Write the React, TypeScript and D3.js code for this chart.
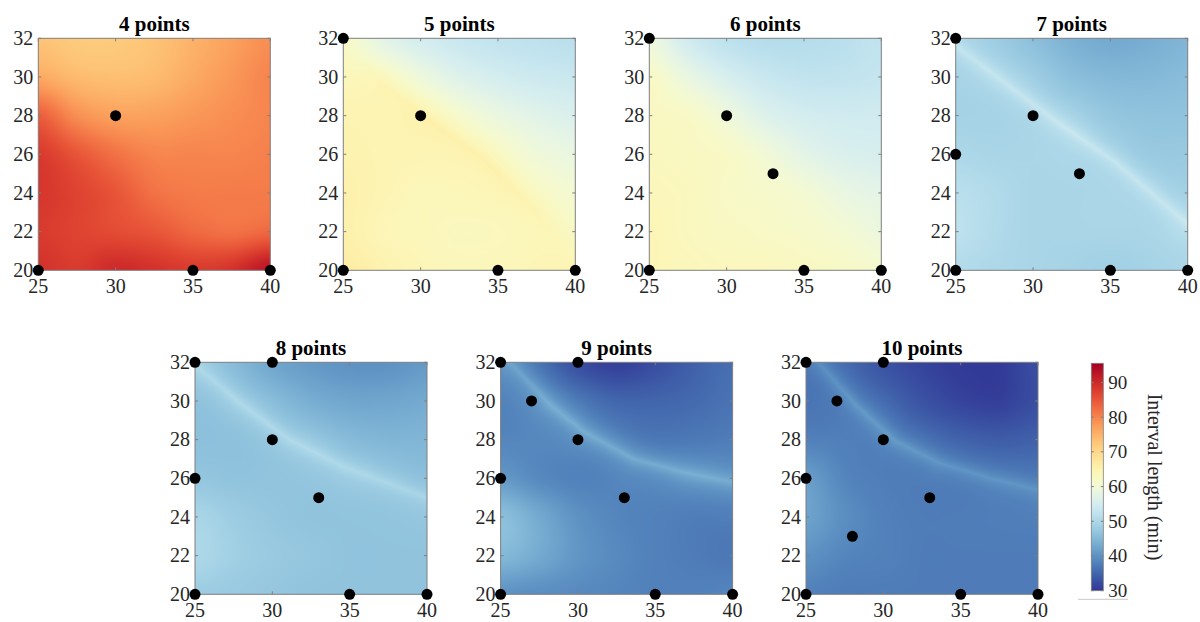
import React, { useMemo } from "react";
import * as d3 from "d3";

// Grid sample positions (data coordinates)
const gridX = [25, 27.5, 30, 32.5, 35, 37.5, 40];
const gridY = [32, 30, 28, 26, 24, 22, 20]; // rows, top to bottom

const xTicks = [25, 30, 35, 40];
const yTicks = [20, 22, 24, 26, 28, 30, 32];
const cbTicks = [30, 40, 50, 60, 70, 80, 90];
const cbDomain = [30, 95.5];

// Interval length (min): smooth background fields
const field4 = [
  [73, 72, 72, 73, 75, 77, 79],
  [76, 74, 73.5, 74, 76, 78, 80],
  [84, 79, 77, 77, 78, 79, 80],
  [88, 85, 82, 80, 80, 80, 80.5],
  [88.5, 87, 85, 82, 81, 81, 81],
  [88, 87, 86, 85, 83, 82, 83],
  [89, 88, 90, 89, 88, 89, 93],
];
const field5 = [
  [62, 57.5, 55, 53.5, 52.5, 52, 51.5],
  [63.5, 62, 59, 56.5, 55, 54, 53.5],
  [64.5, 64, 63, 60.5, 58.5, 57, 56],
  [65, 64.5, 64, 63, 61.5, 59.5, 58.5],
  [65.5, 64.5, 63.5, 63.5, 63, 61.5, 60.5],
  [65.5, 64, 63.5, 63, 63, 63, 62],
  [66.5, 65, 64, 63.5, 63.5, 64, 64.5],
];
const field6 = [
  [59, 54.5, 52, 51, 51, 51.5, 52.5],
  [62, 58.5, 55.5, 53.5, 52.5, 52.5, 53],
  [62.5, 62, 59.5, 56.5, 55, 54.5, 54.5],
  [63, 62.5, 62, 60, 57.5, 56, 55.5],
  [63.5, 63, 62, 61.5, 60.5, 58.5, 57.5],
  [64, 63, 62.5, 62, 61.5, 60.5, 59],
  [64, 63.5, 63, 63, 62.5, 62, 61],
];
const field7 = [
  [49, 48, 46, 44, 43, 43.5, 44.5],
  [49, 49, 48, 46, 45, 45, 45.5],
  [49, 49, 49, 48.5, 47, 46.5, 46.5],
  [50, 49.5, 49.5, 49.5, 48.5, 47.5, 47.5],
  [51.5, 50.5, 49.5, 49.5, 49.5, 49, 48.5],
  [52, 50.5, 49.5, 49.5, 49.5, 49.5, 50],
  [50.5, 50, 49.5, 49, 48.5, 49, 49.5],
];
const field8 = [
  [47, 45, 42.5, 41, 40, 40, 41],
  [46, 46, 45, 43.5, 42.5, 42.5, 43],
  [46, 46, 46, 46, 45, 44.5, 44.5],
  [47, 46.5, 46.5, 46.5, 46.5, 46, 45.5],
  [49.5, 48, 47, 46.5, 46.5, 46.5, 46.5],
  [50, 48.5, 47.5, 47, 46.5, 46.5, 46.5],
  [48, 47.5, 47, 46.5, 46.5, 46.5, 46.5],
];
const field9 = [
  [39, 36, 32.5, 31, 32.5, 34.5, 36],
  [38, 38, 36.5, 35, 35, 35.5, 36.5],
  [38.5, 38.5, 38, 37, 36.5, 37, 37.5],
  [41, 39, 38, 38, 38, 38.5, 38.5],
  [46, 43, 40, 38.5, 38, 37.5, 37.5],
  [45, 43, 40.5, 39, 38, 37.5, 37],
  [40, 39.5, 39, 38.5, 38, 38, 38.5],
];
const field10 = [
  [36, 35, 33, 31.5, 30.5, 30.5, 32.5],
  [36.5, 36, 35, 33, 31.5, 31, 32.5],
  [38, 37.5, 36.5, 35.5, 34.5, 34, 34.5],
  [41.5, 38.5, 37.5, 37, 36.5, 36.5, 36.5],
  [42, 39.5, 38, 37.5, 37.5, 37.5, 37.5],
  [40, 38.5, 38, 37.5, 37.5, 37.5, 37.5],
  [38, 37.5, 37.5, 37.5, 37.5, 37.5, 37.5],
];

// Crease lines seen in the maps: [x, y, extra minutes at the crease]
const ridge4: number[][] = [];
const ridge5 = [[26, 31, 0], [27.5, 29.6, 2], [31.5, 27.2, 3], [34, 25.8, 3], [37, 23.4, 2.5], [38.8, 21.7, 1], [39.8, 20.6, 0]];
const ridge6: number[][] = [];
const ridge7 = [[25, 31.6, 4], [31.5, 27.7, 4.5], [35.3, 25.6, 4.5], [40, 22.4, 4]];
const ridge8 = [[25.1, 31.8, 3.5], [27.9, 29.9, 4.5], [31.1, 28, 4.5], [34.6, 26.6, 4], [40, 25, 3.5]];
const ridge9 = [[25.6, 32, 4], [28.2, 29.8, 6], [30.4, 28.4, 6], [33.6, 27, 6], [36.9, 26.3, 5.5], [40, 25.8, 5]];
const ridge10 = [[25.8, 32, 4], [28.2, 29.8, 5], [30.8, 27.9, 5], [33.6, 26.8, 4.5], [36.9, 26, 4], [40, 25.4, 3.5]];

// Sensor points per panel
const pts4 = [[25, 20], [30, 28], [35, 20], [40, 20]];
const pts5 = [[25, 32], [30, 28], [25, 20], [35, 20], [40, 20]];
const pts6 = [[25, 32], [30, 28], [33, 25], [25, 20], [35, 20], [40, 20]];
const pts7 = [[25, 32], [30, 28], [25, 26], [33, 25], [25, 20], [35, 20], [40, 20]];
const pts8 = [[25, 32], [30, 32], [30, 28], [25, 26], [33, 25], [25, 20], [35, 20], [40, 20]];
const pts9 = [[25, 32], [30, 32], [27, 30], [30, 28], [25, 26], [33, 25], [25, 20], [35, 20], [40, 20]];
const pts10 = [[25, 32], [30, 32], [27, 30], [30, 28], [25, 26], [33, 25], [28, 23], [25, 20], [35, 20], [40, 20]];

const titles = ["4 points", "5 points", "6 points", "7 points", "8 points", "9 points", "10 points"];
const fields = [field4, field5, field6, field7, field8, field9, field10];
const ridges = [ridge4, ridge5, ridge6, ridge7, ridge8, ridge9, ridge10];
const ridgeWidths = [0, 16, 0, 9, 11, 11, 11]; // px falloff of each crease
const pointSets = [pts4, pts5, pts6, pts7, pts8, pts9, pts10];

const SIZE = 232;
const layout = [
  { left: 38.3, top: 38.3 },
  { left: 343.3, top: 38.3 },
  { left: 649.3, top: 38.3 },
  { left: 955.7, top: 38.3 },
  { left: 195, top: 362.3 },
  { left: 500.6, top: 362.3 },
  { left: 806, top: 362.3 },
];

const color = d3
  .scaleSequential((t: number) => d3.interpolateRdYlBu(1 - t))
  .domain(cbDomain as [number, number]);

const FONT = "'Liberation Serif', 'Times New Roman', serif";
const TXT = "#262626";
const AXC = "#7f7f7f";

function cr(p0: number, p1: number, p2: number, p3: number, t: number) {
  return p1 + 0.5 * t * (p2 - p0 + t * (2 * p0 - 5 * p1 + 4 * p2 - p3 + t * (3 * (p1 - p2) + p3 - p0)));
}

function sample(grid: number[][], fx: number, fy: number) {
  const nr = grid.length, nc = grid[0].length;
  const g = (r: number, c: number) =>
    grid[Math.max(0, Math.min(nr - 1, r))][Math.max(0, Math.min(nc - 1, c))];
  const c0 = Math.max(0, Math.min(nc - 2, Math.floor(fx)));
  const r0 = Math.max(0, Math.min(nr - 2, Math.floor(fy)));
  const tx = fx - c0, ty = fy - r0;
  const rowVals: number[] = [];
  for (let k = -1; k <= 2; k++) {
    const r = r0 + k;
    rowVals.push(cr(g(r, c0 - 1), g(r, c0), g(r, c0 + 1), g(r, c0 + 2), tx));
  }
  return cr(rowVals[0], rowVals[1], rowVals[2], rowVals[3], ty);
}

function makeImage(grid: number[][], ridge: number[][], rw: number) {
  const W = SIZE, H = SIZE;
  const canvas = document.createElement("canvas");
  canvas.width = W;
  canvas.height = H;
  const ctx = canvas.getContext("2d")!;
  const img = ctx.createImageData(W, H);
  const xs = d3.scaleLinear().domain([25, 40]).range([0, W]);
  const ys = d3.scaleLinear().domain([20, 32]).range([H, 0]);
  const fxS = d3.scaleLinear().domain([gridX[0], gridX[gridX.length - 1]]).range([0, gridX.length - 1]);
  const fyS = d3.scaleLinear().domain([gridY[0], gridY[gridY.length - 1]]).range([0, gridY.length - 1]);
  const rp = ridge.map(([x, y, a]) => [xs(x), ys(y), a]);
  for (let py = 0; py < H; py++) {
    const cy = py + 0.5;
    const fy = fyS(ys.invert(cy));
    for (let px = 0; px < W; px++) {
      const cx = px + 0.5;
      const fx = fxS(xs.invert(cx));
      let v = sample(grid, fx, fy);
      if (rp.length > 1) {
        let best = Infinity, amp = 0;
        for (let s = 0; s < rp.length - 1; s++) {
          const [x1, y1, a1] = rp[s];
          const [x2, y2, a2] = rp[s + 1];
          const dx = x2 - x1, dy = y2 - y1;
          const L2 = dx * dx + dy * dy;
          let t = ((cx - x1) * dx + (cy - y1) * dy) / L2;
          t = Math.max(0, Math.min(1, t));
          const qx = x1 + t * dx - cx, qy = y1 + t * dy - cy;
          const d = Math.sqrt(qx * qx + qy * qy);
          if (d < best) {
            best = d;
            amp = a1 + t * (a2 - a1);
          }
        }
        v += amp * Math.exp(-best / rw);
      }
      const c = d3.rgb(color(Math.max(cbDomain[0], Math.min(cbDomain[1], v))));
      const i = (py * W + px) * 4;
      img.data[i] = c.r;
      img.data[i + 1] = c.g;
      img.data[i + 2] = c.b;
      img.data[i + 3] = 255;
    }
  }
  ctx.putImageData(img, 0, 0);
  return canvas.toDataURL();
}

function colorbarImage() {
  const H = 256;
  const canvas = document.createElement("canvas");
  canvas.width = 1;
  canvas.height = H;
  const ctx = canvas.getContext("2d")!;
  for (let i = 0; i < H; i++) {
    const v = cbDomain[1] - ((i + 0.5) / H) * (cbDomain[1] - cbDomain[0]);
    ctx.fillStyle = color(v) as string;
    ctx.fillRect(0, i, 1, 1);
  }
  return canvas.toDataURL();
}

function Panel({ idx }: { idx: number }) {
  const { left, top } = layout[idx];
  const x = d3.scaleLinear().domain([25, 40]).range([left, left + SIZE]);
  const y = d3.scaleLinear().domain([20, 32]).range([top + SIZE, top]);
  const url = useMemo(() => makeImage(fields[idx], ridges[idx], ridgeWidths[idx] || 1), [idx]);
  const tl = 3;
  return (
    <g>
      <image href={url} x={left} y={top} width={SIZE} height={SIZE} preserveAspectRatio="none" />
      <rect x={left} y={top} width={SIZE} height={SIZE} fill="none" stroke={AXC} strokeWidth={1} />
      {xTicks.map((t) => (
        <g key={"x" + t}>
          <line x1={x(t)} x2={x(t)} y1={top + SIZE} y2={top + SIZE - tl} stroke={AXC} />
          <line x1={x(t)} x2={x(t)} y1={top} y2={top + tl} stroke={AXC} />
          <text x={x(t)} y={top + SIZE + 23} textAnchor="middle" fontFamily={FONT} fontSize={20} fill={TXT}>
            {t}
          </text>
        </g>
      ))}
      {yTicks.map((t) => (
        <g key={"y" + t}>
          <line x1={left} x2={left + tl} y1={y(t)} y2={y(t)} stroke={AXC} />
          <line x1={left + SIZE} x2={left + SIZE - tl} y1={y(t)} y2={y(t)} stroke={AXC} />
          <text x={left - 5} y={y(t)} dy="0.34em" textAnchor="end" fontFamily={FONT} fontSize={20} fill={TXT}>
            {t}
          </text>
        </g>
      ))}
      <text x={left + SIZE / 2} y={top - 7} textAnchor="middle" fontFamily={FONT} fontSize={21} fontWeight="bold" fill="#000">
        {titles[idx]}
      </text>
      {pointSets[idx].map(([px, py], i) => (
        <circle key={i} cx={x(px)} cy={y(py)} r={5.5} fill="#000" />
      ))}
    </g>
  );
}

function Colorbar() {
  const left = 1091.3, width = 12, top = 363.3, bottom = 590.7;
  const cy = d3.scaleLinear().domain(cbDomain as [number, number]).range([bottom, top]);
  const url = useMemo(() => colorbarImage(), []);
  return (
    <g>
      <image href={url} x={left} y={top} width={width} height={bottom - top} preserveAspectRatio="none" />
      <rect x={left} y={top} width={width} height={bottom - top} fill="none" stroke={AXC} strokeWidth={0.8} />
      {cbTicks.map((t) => (
        <g key={t}>
          <line x1={left + width} x2={left + width - 2.5} y1={cy(t)} y2={cy(t)} stroke={AXC} />
          <line x1={left} x2={left + 2.5} y1={cy(t)} y2={cy(t)} stroke={AXC} />
          <text x={left + width + 5} y={cy(t)} dy="0.34em" fontFamily={FONT} fontSize={19} fill={TXT}>
            {t}
          </text>
        </g>
      ))}
      <text
        transform={`translate(1155,${(top + bottom) / 2}) rotate(90)`}
        textAnchor="middle"
        dy="0.34em"
        fontFamily={FONT}
        fontSize={20}
        fill={TXT}
      >
        Interval length (min)
      </text>
      <line x1={1078} x2={1128} y1={599.3} y2={599.3} stroke="#c8c8c8" strokeWidth={1} />
    </g>
  );
}

export default function App() {
  return (
    <svg
      width={1200}
      height={622}
      style={{ position: "absolute", left: 0, top: 0, background: "#fff", display: "block" }}
    >
      <rect x={0} y={0} width={1200} height={622} fill="#fff" />
      {titles.map((_, i) => (
        <Panel key={i} idx={i} />
      ))}
      <Colorbar />
    </svg>
  );
}
